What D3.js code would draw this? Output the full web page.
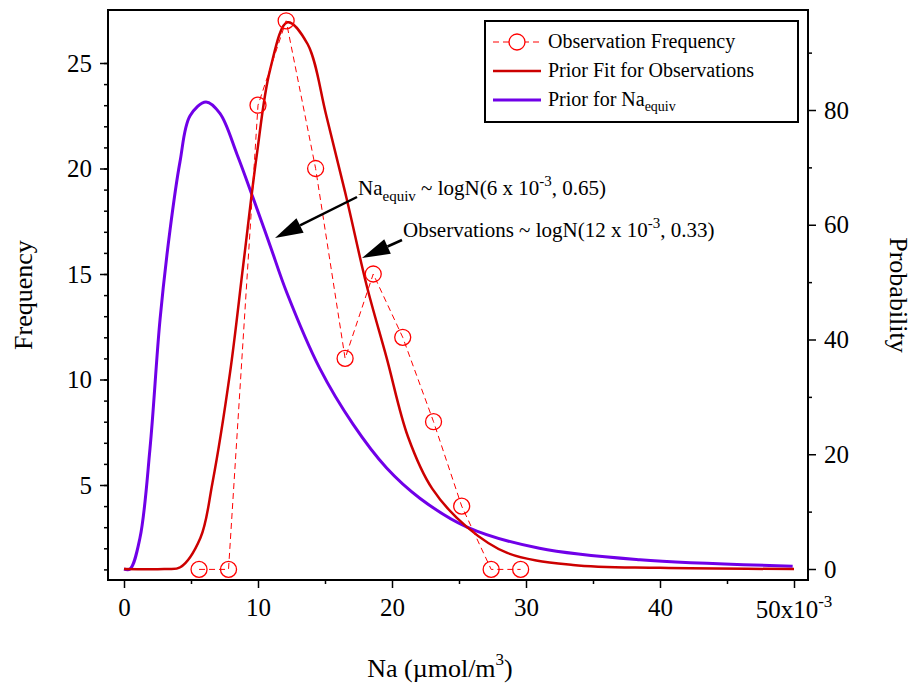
<!DOCTYPE html>
<html><head><meta charset="utf-8">
<script src="https://cdn.jsdelivr.net/npm/d3@7"></script>
<style>body{margin:0;background:#fff}text{font-family:"Liberation Serif","DejaVu Serif",serif}</style>
</head><body><svg id="c" width="912" height="685"></svg>
<script>
// data (x in 1e-3 µmol/m3)
const obsX = [5.6,7.8,10.0,12.1,14.3,16.5,18.6,20.8,23.1,25.2,27.4,29.6];
const obsFreq = [1,1,23,27,20,11,15,12,8,4,1,1];
const fitX = [0,3,4.2,5.7,6.6,7.9,8.9,9.9,10.9,12.2,13.7,15.1,16.6,18.1,19.6,21.2,23,25.6,28.6,33.5,40,50];
const fitP = [0,0,0.3,5.4,15,34,53,72,87,95.3,91.5,79,64.7,49.5,36.8,23,14,7.3,2.8,0.7,0.2,0];
const priorX = [0,0.45,1.19,1.94,2.69,3.43,4.18,4.93,6.12,7.16,8.43,9.63,10.9,12.16,14.6,17.1,19.6,22.1,25.6,31.0,38.5,49.9];
const priorP = [0,0,5.4,21,43.5,59,71,79,81.4,79.4,72.3,64.7,56.4,48.1,35,25.2,17.6,12.3,7.3,3.6,1.6,0.5];
const xTicks = [0,10,20,30,40,50];
const yLeftTicks = [5,10,15,20,25];
const yRightTicks = [0,20,40,60,80];

const svg = d3.select("#c");
const L=108,R=808,T=10,B=580;
const x = d3.scaleLinear().domain([0,50]).range([124,794]);
const yl = d3.scaleLinear().domain([1,25]).range([569.4,63]);
const yr = d3.scaleLinear().domain([0,80]).range([569,110]);

svg.append("rect").attr("x",L).attr("y",T).attr("width",R-L).attr("height",B-T).attr("fill","none").attr("stroke","#000").attr("stroke-width",2);

function styleAxis(g){g.select(".domain").remove();g.selectAll("line").attr("stroke","#000").attr("stroke-width",1.5);
  g.selectAll("text").attr("font-size",25).attr("font-family","Liberation Serif").attr("fill","#000");}
const gx = svg.append("g").attr("transform",`translate(0,${B})`)
  .call(d3.axisBottom(x).tickValues(xTicks).tickSize(8).tickPadding(10).tickFormat(d=>d===50?"":d));
styleAxis(gx);
const t50 = svg.append("text").attr("x",x(50)).attr("y",B+38).attr("text-anchor","middle").attr("font-size",25);
t50.append("tspan").text("50x10");
t50.append("tspan").attr("dy",-11).attr("font-size",17).text("-3");
svg.append("g").attr("transform",`translate(0,${B})`).call(d3.axisBottom(x).tickValues(d3.range(5,50,10)).tickSize(4).tickFormat("")).call(styleAxis);
const gl = svg.append("g").attr("transform",`translate(${L},0)`).call(d3.axisLeft(yl).tickValues(yLeftTicks).tickSize(8).tickPadding(8));
styleAxis(gl);
svg.append("g").attr("transform",`translate(${L},0)`).call(d3.axisLeft(yl).tickValues(d3.range(1,26)).tickSize(4).tickFormat("")).call(styleAxis);
const gr = svg.append("g").attr("transform",`translate(${R},0)`).call(d3.axisRight(yr).tickValues(yRightTicks).tickSize(8).tickPadding(8));
styleAxis(gr);
svg.append("g").attr("transform",`translate(${R},0)`).call(d3.axisRight(yr).tickValues(d3.range(10,100,20)).tickSize(4).tickFormat("")).call(styleAxis);

svg.append("text").attr("transform","translate(32,295) rotate(-90)").attr("text-anchor","middle").attr("font-size",26).text("Frequency");
svg.append("text").attr("transform","translate(890,295) rotate(90)").attr("text-anchor","middle").attr("font-size",26).text("Probability");
const xt = svg.append("text").attr("x",440).attr("y",677).attr("text-anchor","middle").attr("font-size",26);
xt.append("tspan").text("Na (µmol/m");
xt.append("tspan").attr("dy",-12).attr("font-size",17).text("3");
xt.append("tspan").attr("dy",12).text(")");

const line = (ys)=>d3.line().x(d=>x(d[0])).y(d=>ys(d[1])).curve(d3.curveCatmullRom.alpha(0.5));
svg.append("path").datum(priorX.map((v,i)=>[v,priorP[i]])).attr("d",line(yr)).attr("fill","none").attr("stroke","#7000e8").attr("stroke-width",3);
svg.append("path").datum(fitX.map((v,i)=>[v,fitP[i]])).attr("d",line(yr)).attr("fill","none").attr("stroke","#cc0000").attr("stroke-width",2.5);
const obs = obsX.map((v,i)=>[v,obsFreq[i]]);
svg.append("path").datum(obs).attr("d",d3.line().x(d=>x(d[0])).y(d=>yl(d[1]))).attr("fill","none").attr("stroke","#ff0000").attr("stroke-width",1).attr("stroke-dasharray","6,4");
svg.selectAll("circle.o").data(obs).join("circle").attr("cx",d=>x(d[0])).attr("cy",d=>yl(d[1])).attr("r",8).attr("fill","none").attr("stroke","#ff0000").attr("stroke-width",1.3);

function arrow(x1,y1,x2,y2){
  const ang=Math.atan2(y2-y1,x2-x1),len=28,w=8;
  const bx=x2-len*Math.cos(ang),by=y2-len*Math.sin(ang);
  svg.append("line").attr("x1",x1).attr("y1",y1).attr("x2",bx).attr("y2",by).attr("stroke","#000").attr("stroke-width",2.5);
  svg.append("path").attr("d",`M${x2},${y2}L${bx+w*Math.sin(ang)},${by-w*Math.cos(ang)}L${bx-w*Math.sin(ang)},${by+w*Math.cos(ang)}Z`).attr("fill","#000");
}
arrow(357,197,275,238);
arrow(402,240,362,258);
const a1 = svg.append("text").attr("x",358).attr("y",195).attr("font-size",21);
a1.append("tspan").text("Na");
a1.append("tspan").attr("dy",6).attr("font-size",15).text("equiv");
a1.append("tspan").attr("dy",-6).text(" ~ logN(6 x 10");
a1.append("tspan").attr("dy",-9).attr("font-size",15).text("-3");
a1.append("tspan").attr("dy",9).text(", 0.65)");
const a2 = svg.append("text").attr("x",403).attr("y",237).attr("font-size",21);
a2.append("tspan").text("Observations ~ logN(12 x 10");
a2.append("tspan").attr("dy",-9).attr("font-size",15).text("-3");
a2.append("tspan").attr("dy",9).text(", 0.33)");

svg.append("rect").attr("x",485).attr("y",21).attr("width",313).attr("height",101).attr("fill","#fff").attr("stroke","#000").attr("stroke-width",2);
const lg = svg.append("g");
lg.append("line").attr("x1",493).attr("x2",541).attr("y1",42).attr("y2",42).attr("stroke","#ff0000").attr("stroke-dasharray","6,4");
lg.append("circle").attr("cx",517).attr("cy",42).attr("r",8).attr("fill","#fff").attr("stroke","#ff0000").attr("stroke-width",1.3);
lg.append("line").attr("x1",493).attr("x2",541).attr("y1",71).attr("y2",71).attr("stroke","#cc0000").attr("stroke-width",2.5);
lg.append("line").attr("x1",493).attr("x2",541).attr("y1",100).attr("y2",100).attr("stroke","#7000e8").attr("stroke-width",3);
lg.append("text").attr("x",548).attr("y",48).attr("font-size",20).text("Observation Frequency");
lg.append("text").attr("x",548).attr("y",77).attr("font-size",20).text("Prior Fit for Observations");
const l3 = lg.append("text").attr("x",548).attr("y",106).attr("font-size",20);
l3.append("tspan").text("Prior for Na");
l3.append("tspan").attr("dy",5).attr("font-size",14).text("equiv");
</script></body></html>
